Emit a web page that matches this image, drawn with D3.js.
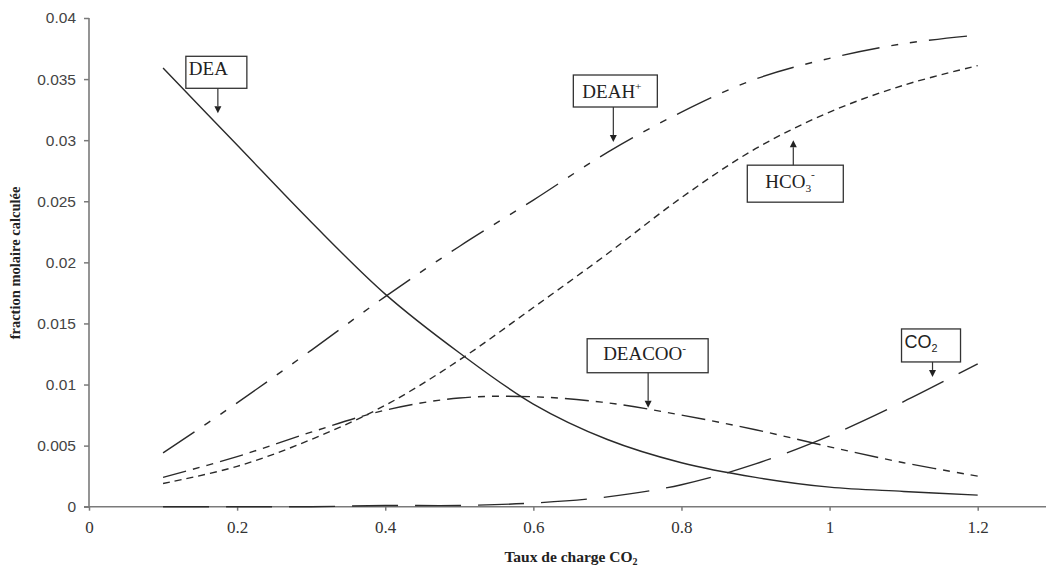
<!DOCTYPE html>
<html>
<head>
<meta charset="utf-8">
<script src="https://cdn.jsdelivr.net/npm/d3@7/dist/d3.min.js"></script>
<style>
  html, body { margin: 0; padding: 0; background: #fff; }
  svg { display: block; }
</style>
</head>
<body>
<svg id="chart" width="1046" height="570"></svg>
<script>
// Loading ratio (x) at which each species is computed
const loading = [0.1, 0.2, 0.3, 0.4, 0.5, 0.6, 0.7, 0.8, 0.9, 1.0, 1.1, 1.2];

// Calculated mole fractions for each species
const dea    = [0.0359, 0.0296, 0.0233, 0.0174, 0.0126, 0.0084, 0.0055, 0.0036, 0.0024, 0.0016, 0.00125, 0.00095];
const deahp  = [0.0044, 0.0085, 0.0128, 0.0172, 0.0213, 0.0251, 0.0290, 0.0323, 0.0350, 0.0367, 0.0379, 0.0386];
const hco3   = [0.0019, 0.0033, 0.0055, 0.0083, 0.0120, 0.0163, 0.0207, 0.0253, 0.0293, 0.0323, 0.0345, 0.0361];
const deacoo = [0.0024, 0.0041, 0.0061, 0.0079, 0.0089, 0.0090, 0.0085, 0.0075, 0.0063, 0.0049, 0.0036, 0.0025];
const co2    = [0.0000, 0.0000, 0.0000, 0.0001, 0.0001, 0.0003, 0.0008, 0.0018, 0.0035, 0.0058, 0.0086, 0.0117];

// Axis ticks
const xTicks = [0, 0.2, 0.4, 0.6, 0.8, 1, 1.2];
const yTicks = [0, 0.005, 0.01, 0.015, 0.02, 0.025, 0.03, 0.035, 0.04];

const svg = d3.select("#chart");
const W = 1046;

const x = d3.scaleLinear().domain([0, 1.2]).range([89, 977.7]);
const y = d3.scaleLinear().domain([0, 0.04]).range([506.7, 18]);

const axisColor = "#7a7a7a";
const inkColor = "#2a2a2a";

// ---- axes ----
const yAxis = svg.append("g")
  .attr("transform", `translate(${x(0)},0)`)
  .call(d3.axisLeft(y).tickValues(yTicks).tickSize(5).tickPadding(8)
        .tickFormat(d => d3.format("")(+d.toFixed(3))));
yAxis.select(".domain").remove();
yAxis.selectAll(".tick line").attr("stroke", axisColor).attr("stroke-width", 1.5);
yAxis.selectAll(".tick text")
  .attr("font-family", "'Liberation Sans', Arial, sans-serif")
  .attr("font-size", 15.5).attr("fill", "#444");

const xAxis = svg.append("g")
  .attr("transform", `translate(0,${y(0)})`)
  .call(d3.axisBottom(x).tickValues(xTicks).tickSize(4).tickPadding(10)
        .tickFormat(d => String(d)));
xAxis.select(".domain").remove();
xAxis.selectAll(".tick line").attr("stroke", axisColor).attr("stroke-width", 1.5);
xAxis.selectAll(".tick text")
  .attr("font-family", "'Liberation Serif', 'Times New Roman', serif")
  .attr("font-size", 17).attr("fill", "#333");

// axis lines: vertical at x=0, horizontal running to the right edge
svg.append("line")
  .attr("x1", x(0)).attr("x2", x(0)).attr("y1", y(0.04)).attr("y2", y(0) + 1)
  .attr("stroke", axisColor).attr("stroke-width", 1.6);
svg.append("line")
  .attr("x1", x(0) - 5).attr("x2", W).attr("y1", y(0)).attr("y2", y(0))
  .attr("stroke", axisColor).attr("stroke-width", 1.6);

// axis titles
const xTitle = svg.append("text")
  .attr("x", 571).attr("y", 562)
  .attr("text-anchor", "middle")
  .attr("font-family", "'Liberation Serif', 'Times New Roman', serif")
  .attr("font-weight", "bold").attr("font-size", 15.5).attr("fill", "#222");
xTitle.append("tspan").text("Taux de charge CO");
xTitle.append("tspan").attr("font-size", 10).attr("dy", 3).text("2");

svg.append("text")
  .attr("transform", "translate(20,263) rotate(-90)")
  .attr("text-anchor", "middle")
  .attr("font-family", "'Liberation Serif', 'Times New Roman', serif")
  .attr("font-weight", "bold").attr("font-size", 14.5).attr("fill", "#222")
  .text("fraction molaire calculée");

// ---- curves ----
const series = [
  { name: "DEA",     values: dea,    dash: null },
  { name: "DEAH+",   values: deahp,  dash: "38,12,7,12,7,12" },
  { name: "HCO3-",   values: hco3,   dash: "7,5" },
  { name: "DEACOO-", values: deacoo, dash: "24,7,7,7,7,7" },
  { name: "CO2",     values: co2,    dash: "46,17" }
];

const line = d3.line()
  .x(d => x(d[0]))
  .y(d => y(Math.max(0, d[1])))
  .curve(d3.curveCatmullRom.alpha(0.5));

svg.append("g").selectAll("path")
  .data(series)
  .join("path")
  .attr("d", s => line(loading.map((l, i) => [l, s.values[i]])))
  .attr("fill", "none")
  .attr("stroke", inkColor)
  .attr("stroke-width", 1.4)
  .attr("stroke-dasharray", s => s.dash);

// ---- labelled callouts: box + arrow pointing to the curve ----
const serif = "'Liberation Serif', 'Times New Roman', serif";
const sans = "'Liberation Sans', Arial, sans-serif";
const callouts = [
  { tip: [0.174, 0.0322], dir: "down", len: 25, w: 61, h: 32, dx: -32, tx: 3, ty: 19, font: serif, size: 19,
    parts: [["DEA", 0]] },
  { tip: [0.708, 0.02985], dir: "down", len: 35, w: 84, h: 32, dx: -40, tx: 9, ty: 23, font: serif, size: 19,
    parts: [["DEAH", 0], ["+", -8]] },
  { tip: [0.951, 0.0300], dir: "up", len: 25, w: 96, h: 37, dx: -46, tx: 18, ty: 23, font: serif, size: 19,
    parts: [["HCO", 0], ["3", 4], ["-", -10]] },
  { tip: [0.755, 0.0081], dir: "down", len: 35, w: 121, h: 34, dx: -61, tx: 16, ty: 21, font: serif, size: 19,
    parts: [["DEACOO", 0], ["-", -8]] },
  { tip: [1.139, 0.01062], dir: "down", len: 15, w: 59, h: 33, dx: -31, tx: 3, ty: 19, font: sans, size: 18,
    parts: [["CO", 0], ["2", 4]] }
];

const cg = svg.append("g");
callouts.forEach(c => {
  const tx = x(c.tip[0]), ty = y(c.tip[1]);
  const boxTop = c.dir === "down" ? ty - c.len - c.h : ty + c.len;
  const boxLeft = tx + c.dx;
  const g = cg.append("g");
  g.append("rect")
    .attr("x", boxLeft).attr("y", boxTop).attr("width", c.w).attr("height", c.h)
    .attr("fill", "#fff").attr("stroke", "#333").attr("stroke-width", 1.3);
  const base = c.dir === "down" ? boxTop + c.h : boxTop;
  const head = 7, hw = 3.5;
  const shaftEnd = c.dir === "down" ? ty - head : ty + head;
  g.append("line")
    .attr("x1", tx).attr("x2", tx).attr("y1", base).attr("y2", shaftEnd)
    .attr("stroke", "#333").attr("stroke-width", 1.2);
  g.append("path")
    .attr("d", `M${tx - hw},${shaftEnd} L${tx + hw},${shaftEnd} L${tx},${ty} Z`)
    .attr("fill", "#222");
  const t = g.append("text")
    .attr("x", boxLeft + c.tx).attr("y", boxTop + c.ty)
    .attr("font-family", c.font).attr("font-size", c.size).attr("fill", "#222");
  let shift = 0;
  c.parts.forEach(([s, off], i) => {
    const sp = t.append("tspan").text(s);
    if (i > 0 || off !== 0) {
      sp.attr("dy", off - shift);
      shift = off;
    }
    if (off !== 0) sp.attr("font-size", c.size * 0.6);
  });
});
</script>
</body>
</html>
